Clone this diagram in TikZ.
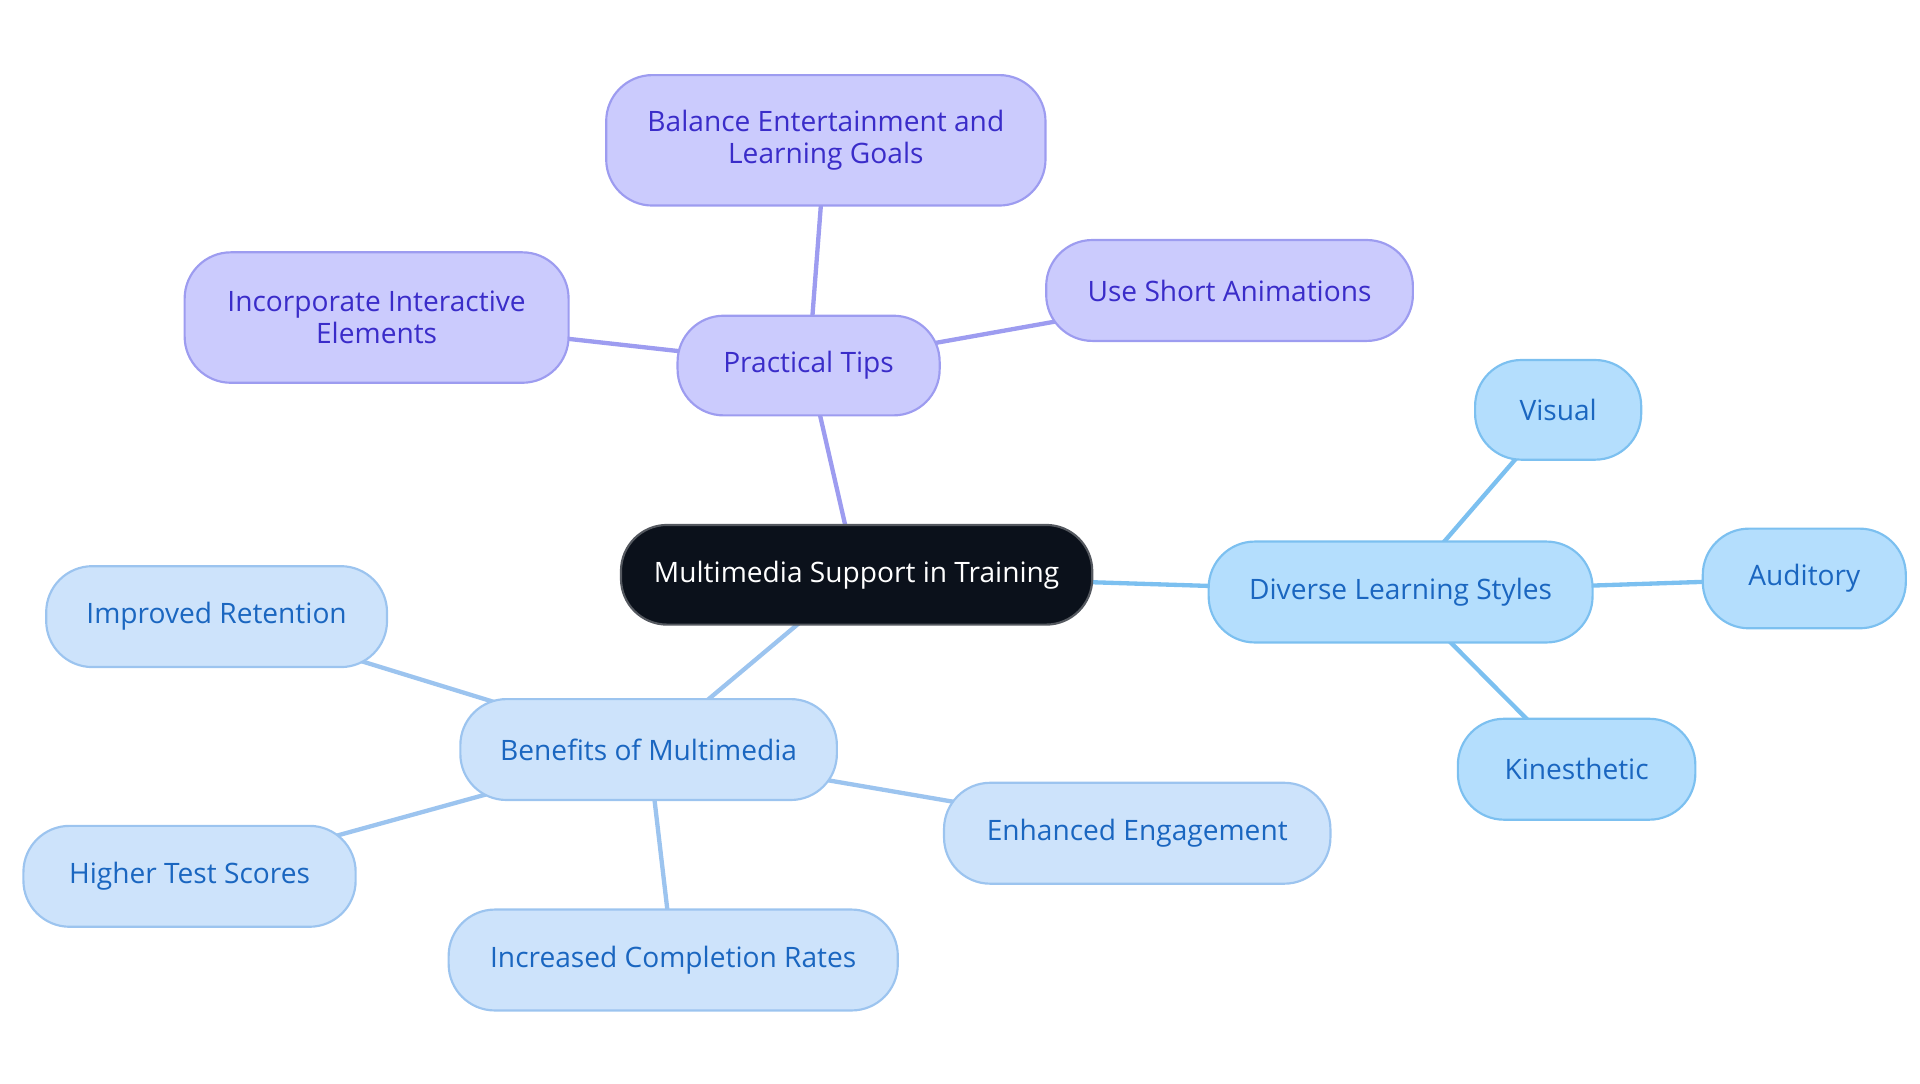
\documentclass[tikz,border=0pt]{standalone}
\usepackage{fontspec}
\setmainfont{Open Sans}
\usetikzlibrary{backgrounds}
\definecolor{cdark}{HTML}{0B111B}
\definecolor{pfill}{HTML}{CBCBFD}\definecolor{pdraw}{HTML}{9D9CF0}\definecolor{ptext}{HTML}{3A2CC9}
\definecolor{dfill}{HTML}{B4DEFD}\definecolor{ddraw}{HTML}{7CC0F0}\definecolor{dtext}{HTML}{1A66C0}
\definecolor{bfill}{HTML}{CDE3FB}\definecolor{bdraw}{HTML}{9CC4EF}\definecolor{btext}{HTML}{1A66C0}
\begin{document}
\begin{tikzpicture}[x=0.02cm,y=-0.02cm,
  box/.style={rounded corners=0.75cm,line width=1pt,align=center,inner sep=0pt,font=\fontsize{13}{15}\selectfont},
  pbox/.style={box,fill=pfill,draw=pdraw,text=ptext},
  dbox/.style={box,fill=dfill,draw=ddraw,text=dtext},
  bbox/.style={box,fill=bfill,draw=bdraw,text=btext},
  pe/.style={draw=pdraw,line width=2pt},
  de/.style={draw=ddraw,line width=2pt},
  be/.style={draw=bdraw,line width=2pt}]
\useasboundingbox (0,0) rectangle (1560,880);
\node[box,fill=cdark,draw=cdark!70,text=white,minimum width=7.66cm,minimum height=1.62cm] (c) at (696,467) {Multimedia Support in Training};
\node[pbox,minimum width=4.26cm,minimum height=1.62cm] (p) at (657,297) {Practical Tips};
\node[pbox,minimum width=7.14cm,minimum height=2.12cm] (p1) at (671,114) {Balance Entertainment and\\Learning Goals};
\node[pbox,minimum width=6.24cm,minimum height=2.12cm] (p2) at (306,258) {Incorporate Interactive\\Elements};
\node[pbox,minimum width=5.96cm,minimum height=1.64cm] (p3) at (999,236) {Use Short Animations};
\node[dbox,minimum width=6.24cm,minimum height=1.64cm] (d) at (1138,481) {Diverse Learning Styles};
\node[dbox,minimum width=2.7cm,minimum height=1.62cm] (d1) at (1266,333) {Visual};
\node[dbox,minimum width=3.3cm,minimum height=1.62cm] (d2) at (1466,470) {Auditory};
\node[dbox,minimum width=3.86cm,minimum height=1.64cm] (d3) at (1281,625) {Kinesthetic};
\node[bbox,minimum width=6.12cm,minimum height=1.64cm] (b) at (527,609) {Benefits of Multimedia};
\node[bbox,minimum width=5.54cm,minimum height=1.64cm] (b1) at (176,501) {Improved Retention};
\node[bbox,minimum width=5.4cm,minimum height=1.64cm] (b2) at (154,712) {Higher Test Scores};
\node[bbox,minimum width=7.3cm,minimum height=1.64cm] (b3) at (547,780) {Increased Completion Rates};
\node[bbox,minimum width=6.28cm,minimum height=1.64cm] (b4) at (924,677) {Enhanced Engagement};
\begin{scope}[on background layer]
\draw[pe] (c.center) -- (p.center);
\draw[pe] (p.center) -- (p1.center);
\draw[pe] (p.center) -- (p2.center);
\draw[pe] (p.center) -- (p3.center);
\draw[de] (c.center) -- (d.center);
\draw[de] (d.center) -- (d1.center);
\draw[de] (d.center) -- (d2.center);
\draw[de] (d.center) -- (d3.center);
\draw[be] (c.center) -- (b.center);
\draw[be] (b.center) -- (b1.center);
\draw[be] (b.center) -- (b2.center);
\draw[be] (b.center) -- (b3.center);
\draw[be] (b.center) -- (b4.center);
\end{scope}
\end{tikzpicture}
\end{document}
